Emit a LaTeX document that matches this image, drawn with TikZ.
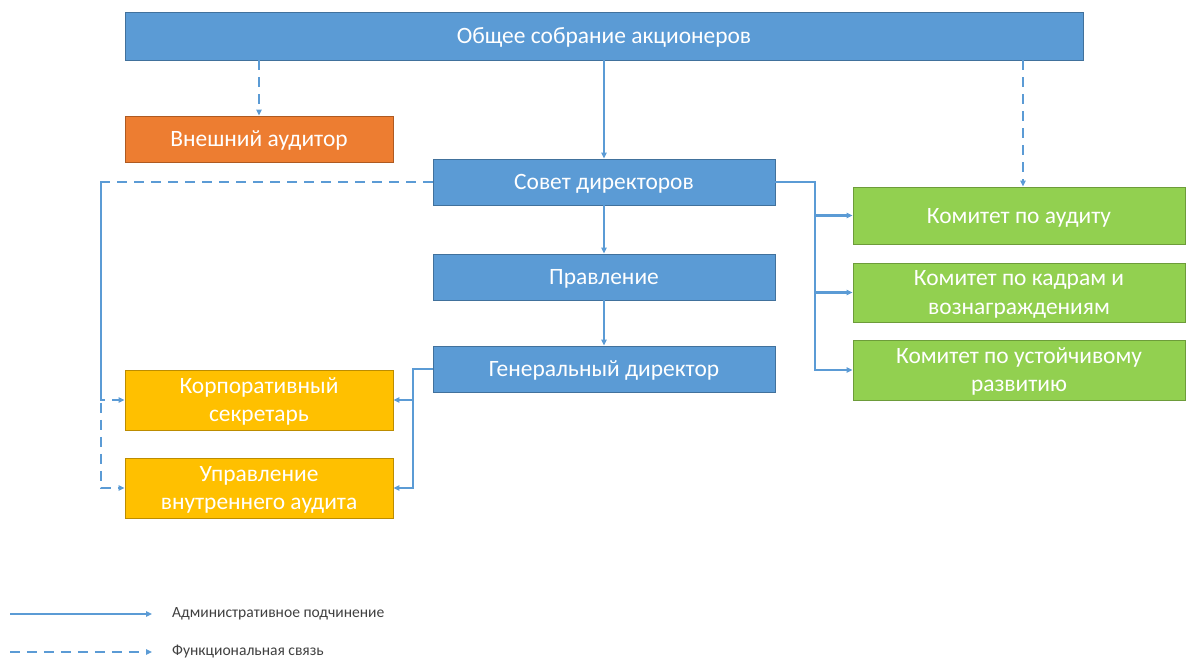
\documentclass[tikz,border=0pt]{standalone}
\usepackage{fontspec}
\setmainfont{Carlito}
\usetikzlibrary{arrows.meta, positioning, calc}
\definecolor{bxblue}{HTML}{5B9BD5}
\definecolor{dkblue}{HTML}{41719C}
\definecolor{bxorange}{HTML}{ED7D31}
\definecolor{dkorange}{HTML}{AE5A21}
\definecolor{bxgold}{HTML}{FFC000}
\definecolor{dkgold}{HTML}{BC8C00}
\definecolor{bxgreen}{HTML}{92D050}
\definecolor{dkgreen}{HTML}{6D9C3A}
\definecolor{lgtext}{HTML}{404040}

\begin{document}
\begin{tikzpicture}[
  x=0.03cm, y=-0.03cm,
  >={Triangle[length=5pt, width=4.5pt]},
  unit/.style={fill=bx#1, draw=dk#1, line width=0.8pt, text=white,
    align=center, inner sep=2pt, text depth=0pt,
    font=\fontsize{20}{24}\selectfont},
  arr/.style={->, line width=1.9pt, bxblue},
  farr/.style={->, line width=1.9pt, bxblue, dash pattern=on 8.5pt off 6pt},
  legend/.style={anchor=west, text=lgtext, font=\fontsize{13.3}{15}\selectfont},
]

\useasboundingbox (0,0) rectangle (1186,658);

% === Boxes ===
\node[unit=blue, minimum width=28.74cm, minimum height=1.44cm] (gsm) at (604,36)
  {Общее собрание акционеров};

\node[unit=orange, minimum width=8.04cm, minimum height=1.38cm] (extaud) at (259,139)
  {Внешний аудитор};

\node[unit=blue, minimum width=10.26cm, minimum height=1.38cm] (board) at (604,182)
  {Совет директоров};
\node[unit=blue, minimum width=10.26cm, minimum height=1.38cm] (mgmt) at (604,277)
  {Правление};
\node[unit=blue, minimum width=10.26cm, minimum height=1.38cm] (ceo) at (604,369)
  {Генеральный директор};

\node[unit=gold, minimum width=8.04cm, minimum height=1.8cm] (secr) at (259,400)
  {Корпоративный\\секретарь};
\node[unit=gold, minimum width=8.04cm, minimum height=1.8cm] (intaud) at (259,488)
  {Управление\\внутреннего аудита};

\node[unit=green, minimum width=9.96cm, minimum height=1.71cm] (cmaud) at (1019,215.5)
  {Комитет по аудиту};
\node[unit=green, minimum width=9.96cm, minimum height=1.77cm] (cmhr) at (1019,292.5)
  {Комитет по кадрам и\\вознаграждениям};
\node[unit=green, minimum width=9.96cm, minimum height=1.8cm] (cmsus) at (1019,370)
  {Комитет по устойчивому\\развитию};

% === Administrative links ===
\draw[arr] (gsm.south) -- (board.north);
\draw[arr] (board.south) -- (mgmt.north);
\draw[arr] (mgmt.south) -- (ceo.north);

\coordinate (rbus) at (815,182);
\draw[arr] (board.east) -- (rbus) |- (cmaud.west);
\draw[arr] (rbus) |- (cmhr.west);
\draw[arr] (rbus) |- (cmsus.west);

\coordinate (lbus) at (413,369);
\draw[arr] (ceo.west) -- (lbus) |- (secr.east);
\draw[arr] (lbus) |- (intaud.east);

% === Functional links ===
\draw[farr] (gsm.south -| extaud.north) -- (extaud.north);
\draw[farr] ($(gsm.south -| cmaud.north)+(4,0)$) -- ($(cmaud.north)+(4,0)$);

\coordinate (dbus) at (101,182);
\draw[farr] (board.west) -- (dbus) |- (secr.west);
\draw[farr] (dbus) |- (intaud.west);

% === Legend ===
\coordinate (ls1) at (10,614);
\coordinate (ls2) at (152,614);
\coordinate (lf1) at (10,652);
\coordinate (lf2) at (152,652);
\draw[arr] (ls1) -- (ls2);
\draw[farr] (lf1) -- (lf2);
\node[legend] (ladm) at (168,614) {Административное подчинение};
\node[legend] (lfun) at (168,652) {Функциональная связь};

\end{tikzpicture}
\end{document}
